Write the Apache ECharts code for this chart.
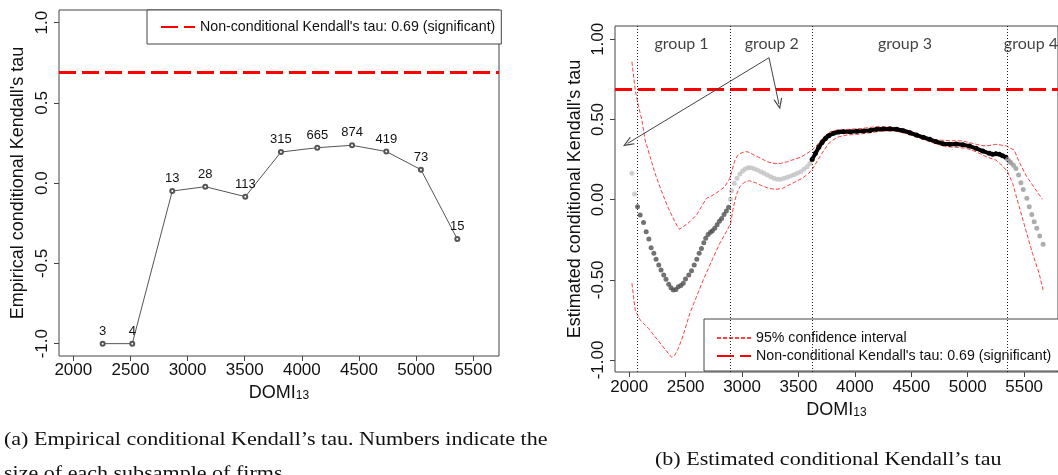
<!DOCTYPE html>
<html><head><meta charset="utf-8">
<script src="https://cdn.jsdelivr.net/npm/echarts@6/dist/echarts.min.js"></script>
<style>html,body{margin:0;padding:0;background:#fff}#c{width:1058px;height:475px}</style>
</head><body><div id="c"></div>
<script>
const NONCOND = "Non-conditional Kendall's tau: 0.69 (significant)";
const CI_NAME = "95% confidence interval";
const TAU_ALL = 0.69;

// Panel (a): empirical conditional Kendall's tau
const empX = [2257, 2516, 2866, 3155, 3505, 3817, 4135, 4439, 4739, 5042, 5360];
const empTau = [-1.0, -1.0, -0.049, -0.022, -0.084, 0.194, 0.221, 0.236, 0.197, 0.084, -0.348];
const empN = [3, 4, 13, 28, 113, 315, 665, 874, 419, 73, 15];

// Panel (b): estimated conditional Kendall's tau
const edgeX = [2024, 2047];
const edgeTau = [0.164, 0.035];
const g1X = [2074, 2097, 2127, 2150, 2174, 2194, 2218, 2238, 2262, 2282, 2306, 2326, 2350, 2370, 2391, 2414, 2435, 2458, 2479, 2499, 2528, 2552, 2576, 2599, 2620, 2640, 2661, 2678, 2699, 2720, 2737, 2758, 2779, 2799, 2819, 2840, 2861, 2881];
const g1Tau = [-0.044, -0.096, -0.142, -0.200, -0.246, -0.300, -0.335, -0.372, -0.408, -0.439, -0.470, -0.497, -0.528, -0.550, -0.564, -0.560, -0.543, -0.535, -0.522, -0.495, -0.470, -0.444, -0.408, -0.372, -0.335, -0.304, -0.269, -0.241, -0.217, -0.204, -0.194, -0.179, -0.157, -0.135, -0.117, -0.092, -0.071, -0.048];
const g2X = [2896, 2907, 2931, 2955, 2981, 3004, 3028, 3054, 3078, 3107, 3136, 3166, 3195, 3224, 3254, 3283, 3313, 3342, 3372, 3401, 3431, 3460, 3489, 3519, 3548, 3577, 3601];
const g2Tau = [0.002, 0.056, 0.102, 0.133, 0.160, 0.178, 0.191, 0.199, 0.199, 0.193, 0.185, 0.174, 0.164, 0.153, 0.143, 0.133, 0.127, 0.127, 0.133, 0.139, 0.147, 0.155, 0.164, 0.174, 0.189, 0.205, 0.226];
const g3X = [3621, 3651, 3680, 3709, 3739, 3768, 3812, 3856, 3900, 3959, 4017, 4076, 4135, 4194, 4252, 4311, 4370, 4429, 4488, 4546, 4605, 4664, 4722, 4781, 4840, 4898, 4957, 5016, 5074, 5133, 5192, 5221, 5250, 5280, 5309, 5338];
const g3Tau = [0.251, 0.289, 0.326, 0.357, 0.382, 0.399, 0.414, 0.422, 0.424, 0.424, 0.426, 0.428, 0.432, 0.439, 0.440, 0.440, 0.439, 0.430, 0.417, 0.403, 0.389, 0.376, 0.361, 0.349, 0.345, 0.347, 0.342, 0.334, 0.320, 0.303, 0.289, 0.283, 0.286, 0.283, 0.274, 0.264];
const g4X = [5353, 5368, 5383, 5405, 5427, 5451, 5471, 5492, 5524, 5545, 5568, 5589, 5612, 5638, 5668];
const g4Tau = [0.251, 0.240, 0.230, 0.215, 0.195, 0.153, 0.105, 0.064, 0.008, -0.044, -0.092, -0.138, -0.179, -0.227, -0.279];

const ciUpX = [2024, 2053, 2083, 2112, 2141, 2185, 2229, 2288, 2347, 2405, 2444, 2479, 2537, 2596, 2640, 2684, 2728, 2788, 2846, 2890, 2915, 2934, 2960, 2990, 3030, 3060, 3107, 3166, 3224, 3283, 3342, 3401, 3460, 3519, 3577, 3621, 3665, 3724, 3783, 3841, 3959, 4076, 4194, 4311, 4399, 4488, 4605, 4722, 4840, 4957, 5074, 5162, 5250, 5338, 5412, 5456, 5515, 5574, 5662];
const ciUp = [0.860, 0.684, 0.580, 0.497, 0.372, 0.268, 0.164, 0.049, -0.054, -0.138, -0.185, -0.169, -0.138, -0.096, -0.044, 0.008, 0.022, 0.049, 0.080, 0.130, 0.190, 0.240, 0.275, 0.290, 0.300, 0.296, 0.278, 0.258, 0.236, 0.226, 0.226, 0.236, 0.251, 0.264, 0.289, 0.309, 0.341, 0.392, 0.424, 0.434, 0.439, 0.445, 0.455, 0.455, 0.445, 0.428, 0.397, 0.372, 0.368, 0.366, 0.345, 0.334, 0.345, 0.336, 0.309, 0.236, 0.153, 0.091, 0.002];
const ciLoX = [2024, 2053, 2097, 2171, 2229, 2288, 2347, 2376, 2405, 2435, 2479, 2537, 2596, 2655, 2728, 2802, 2861, 2898, 2920, 2949, 2980, 3019, 3063, 3122, 3180, 3239, 3298, 3357, 3416, 3474, 3533, 3592, 3636, 3695, 3768, 3841, 3929, 4017, 4135, 4252, 4340, 4429, 4517, 4605, 4722, 4810, 4898, 4986, 5074, 5162, 5250, 5309, 5353, 5398, 5456, 5515, 5574, 5633, 5668];
const ciLo = [-0.522, -0.689, -0.751, -0.803, -0.855, -0.907, -0.959, -0.984, -0.969, -0.928, -0.845, -0.709, -0.606, -0.502, -0.387, -0.273, -0.200, -0.150, -0.060, 0.030, 0.080, 0.108, 0.118, 0.105, 0.085, 0.070, 0.064, 0.070, 0.091, 0.112, 0.133, 0.164, 0.205, 0.275, 0.351, 0.389, 0.403, 0.407, 0.417, 0.428, 0.430, 0.417, 0.397, 0.376, 0.347, 0.330, 0.326, 0.320, 0.299, 0.268, 0.247, 0.210, 0.174, 0.102, -0.044, -0.190, -0.335, -0.460, -0.564];

const groupBreaks = [2070, 2898, 3624, 5351];
const groupNames = ['group 1', 'group 2', 'group 3', 'group 4'];
const groupLabelX = [2464, 3263, 4444, 5560];
const groupLabelY = 0.97;
const arrowFrom = [3239, 0.885];
const arrowTo = [[1986, 0.351], [3327, 0.596]];

const xTicks = [2000, 2500, 3000, 3500, 4000, 4500, 5000, 5500];
const yTicks = [-1, -0.5, 0, 0.5, 1];

const FONT = "'Liberation Sans', Arial, sans-serif";
const SERIF = "'Liberation Serif', 'DejaVu Serif', serif";
const zip = (a, b) => a.map((v, i) => [v, b[i]]);

function xAx(gi, min, max, margin, gap) {
  return {
    type: 'value', gridIndex: gi, min: min, max: max,
    axisLine: { show: false, onZero: false }, splitLine: { show: false },
    axisTick: { show: true, customValues: xTicks, length: 5, lineStyle: { color: '#444' } },
    axisLabel: { customValues: xTicks, fontSize: 17, color: '#111', fontFamily: FONT, margin: margin,
      formatter: v => String(v) },
    name: '{m|DOMI}{s|13}', nameLocation: 'middle', nameGap: gap,
    nameTextStyle: { rich: {
      m: { fontSize: 18, lineHeight: 18, fontFamily: FONT, color: '#111' },
      s: { fontSize: 12, lineHeight: 8, verticalAlign: 'bottom', fontFamily: FONT, color: '#111' }
    } }
  };
}
function yAx(gi, min, max, name, dec, gap) {
  return {
    type: 'value', gridIndex: gi, min: min, max: max,
    axisLine: { show: false, onZero: false }, splitLine: { show: false },
    axisTick: { show: true, customValues: yTicks, length: 5, lineStyle: { color: '#444' } },
    axisLabel: { customValues: yTicks, rotate: 90, fontSize: 17, color: '#111', fontFamily: FONT, margin: 8,
      formatter: v => v.toFixed(dec) },
    name: name, nameLocation: 'middle', nameGap: gap,
    nameTextStyle: { fontSize: 18, color: '#111', fontFamily: FONT }
  };
}
const dashRed = { color: '#ff0000', width: 3, type: [17, 6] };
const ciStyle = { color: '#ff2020', width: 1, type: [4, 2], opacity: 0.85 };
function dots(name, xs, ys, color) {
  return { name: name, type: 'scatter', xAxisIndex: 1, yAxisIndex: 1, symbol: 'circle', symbolSize: 5,
    itemStyle: { color: color }, data: zip(xs, ys), z: 3, silent: true };
}
const legendBase = {
  orient: 'vertical', selectedMode: false, itemWidth: 34, itemHeight: 14,
  borderColor: '#444', borderWidth: 1, backgroundColor: '#fff', borderRadius: 0,
  itemStyle: { opacity: 0 },
  textStyle: { fontSize: 14.2, color: '#111', fontFamily: FONT }
};

const chart = echarts.init(document.getElementById('c'), null, { renderer: 'canvas' });
chart.setOption({
  animation: false,
  backgroundColor: '#fff',
  textStyle: { fontFamily: FONT },
  grid: [
    { left: 59, top: 10, width: 440, height: 346, show: true, borderColor: '#444', borderWidth: 1, backgroundColor: 'transparent' },
    { left: 615, top: 26, width: 446, height: 346, show: true, borderColor: '#444', borderWidth: 1, backgroundColor: 'transparent' }
  ],
  xAxis: [xAx(0, 1875, 5725, 6, 24), xAx(1, 1874, 5800, 7, 24)],
  yAxis: [yAx(0, -1.077, 1.079, "Empirical conditional Kendall's tau", 1, 32),
          yAx(1, -1.075, 1.083, "Estimated conditional Kendall's tau", 2, 31)],
  legend: [
    Object.assign({}, legendBase, { left: 147, top: 10, data: [NONCOND], padding: [10, 6, 10, 13] }),
    Object.assign({}, legendBase, { left: 704, top: 319, data: [CI_NAME, NONCOND], itemGap: 4, padding: [12, 10, 8, 12] })
  ],
  graphic: [
    { type: 'text', left: 4, top: 431, scaleX: 1.16, style: { text: "(a) Empirical conditional Kendall\u2019s tau. Numbers indicate the", font: '19px ' + SERIF, fill: '#111' } },
    { type: 'text', left: 4, top: 465, scaleX: 1.16, style: { text: 'size of each subsample of firms', font: '19px ' + SERIF, fill: '#111' } },
    { type: 'text', left: 655, top: 451, scaleX: 1.16, style: { text: "(b) Estimated conditional Kendall\u2019s tau", font: '19px ' + SERIF, fill: '#111' } }
  ],
  series: [
    { name: 'Empirical', type: 'line', xAxisIndex: 0, yAxisIndex: 0, data: zip(empX, empTau),
      symbol: 'emptyCircle', symbolSize: 4, lineStyle: { color: '#555', width: 1 }, itemStyle: { color: '#555' },
      label: { show: true, position: 'top', distance: 3, fontSize: 13, color: '#111', fontFamily: FONT,
        formatter: p => String(empN[p.dataIndex]) }, silent: true },
    { name: NONCOND, type: 'line', xAxisIndex: 0, yAxisIndex: 0, data: [], symbol: 'none', lineStyle: dashRed,
      itemStyle: { color: '#ff0000' },
      markLine: { silent: true, symbol: 'none', label: { show: false }, lineStyle: dashRed, data: [{ yAxis: TAU_ALL }] } },
    { name: NONCOND, type: 'line', xAxisIndex: 1, yAxisIndex: 1, data: [], symbol: 'none', lineStyle: dashRed,
      itemStyle: { color: '#ff0000' },
      markLine: { silent: true, symbol: 'none', label: { show: false }, lineStyle: dashRed, data: [{ yAxis: TAU_ALL }] } },
    { name: CI_NAME, type: 'line', xAxisIndex: 1, yAxisIndex: 1, data: zip(ciUpX, ciUp), symbol: 'none',
      lineStyle: ciStyle, itemStyle: { color: '#ff2020' }, silent: true, z: 2 },
    { name: CI_NAME, type: 'line', xAxisIndex: 1, yAxisIndex: 1, data: zip(ciLoX, ciLo), symbol: 'none',
      lineStyle: ciStyle, itemStyle: { color: '#ff2020' }, silent: true, z: 2 },
    dots('edge', edgeX, edgeTau, '#c4c4c4'),
    dots('group 1', g1X, g1Tau, '#4f4f4f'),
    dots('group 2', g2X, g2Tau, '#c2c2c2'),
    { name: 'group 3', type: 'line', xAxisIndex: 1, yAxisIndex: 1, data: zip(g3X, g3Tau), symbol: 'circle', symbolSize: 5,
      showAllSymbol: true, lineStyle: { color: '#000', width: 4 }, itemStyle: { color: '#000' }, z: 3, silent: true },
    dots('group 4', g4X, g4Tau, '#999999'),
    { name: 'breaks', type: 'line', xAxisIndex: 1, yAxisIndex: 1, data: [], symbol: 'none',
      markLine: { silent: true, symbol: 'none', label: { show: false },
        lineStyle: { color: '#222', width: 1, type: [1, 2] },
        data: groupBreaks.map(v => ({ xAxis: v })) } },
    { name: 'groups', type: 'scatter', xAxisIndex: 1, yAxisIndex: 1, symbolSize: 0, silent: true,
      data: groupNames.map((n, i) => ({ name: n, value: [groupLabelX[i], groupLabelY] })),
      label: { show: true, position: 'inside', formatter: '{b}', fontSize: 16, color: '#111', fontFamily: "Lato, 'Open Sans', sans-serif" } },
    { name: 'arrows', type: 'line', xAxisIndex: 1, yAxisIndex: 1, data: [], symbol: 'none',
      markLine: { silent: true, symbol: ['none', 'path://M0,10 L5,0 L10,10 L8.6,10 L5,2.8 L1.4,10 Z'], symbolSize: [9, 11],
        label: { show: false }, lineStyle: { color: '#444', width: 1, type: 'solid' },
        data: arrowTo.map(t => [{ coord: arrowFrom }, { coord: t }]) } }
  ]
});
</script></body></html>
